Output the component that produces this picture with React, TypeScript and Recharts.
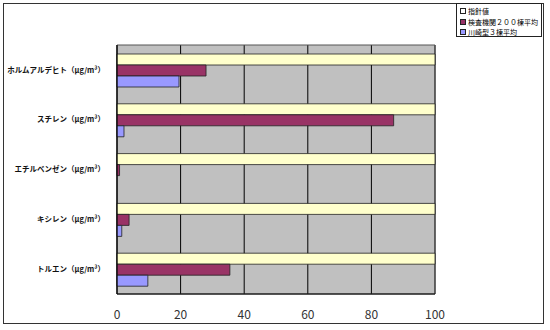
import { BarChart, Bar, XAxis, YAxis, CartesianGrid, ReferenceArea } from 'recharts';

// 物質名（上から順）
const substances = [
  'ホルムアルデヒト（μg/m³）',
  'スチレン（μg/m³）',
  'エチルベンゼン（μg/m³）',
  'キシレン（μg/m³）',
  'トルエン（μg/m³）',
];

// 指針値に対する割合（%）
const guideline = [100, 100, 100, 100, 100];
const agency200 = [28, 87, 0.8, 3.8, 35.5];
const kawasaki3 = [19.5, 2.2, 0, 1.5, 9.7];

const xTicks = [0, 20, 40, 60, 80, 100];

const seriesNames = ['指針値', '検査機関２００棟平均', '川崎型３棟平均'];
const seriesColors = ['#FFFFCC', '#993366', '#9999FF'];

const data = substances.map((name, i) => ({
  name,
  guideline: guideline[i],
  agency200: agency200[i],
  kawasaki3: kawasaki3[i],
}));

const font = '"Noto Sans CJK JP", "Noto Sans", sans-serif';

const ChartLegend = () => (
  <div
    style={{
      position: 'absolute',
      left: 456,
      top: 3,
      width: 86,
      height: 34,
      border: '1px solid #222',
      background: '#fff',
      fontFamily: font,
      fontSize: 7,
      lineHeight: '10.5px',
      padding: '2px 0 0 3px',
      boxSizing: 'border-box',
    }}
  >
    {seriesNames.map((n, i) => (
      <div key={n} style={{ display: 'flex', alignItems: 'center', gap: 2, whiteSpace: 'nowrap' }}>
        <span
          style={{
            display: 'inline-block',
            width: 4,
            height: 4,
            border: '1px solid #222',
            background: i === 0 ? '#fff' : seriesColors[i],
          }}
        />
        <span>{n}</span>
      </div>
    ))}
  </div>
);

export default function App() {
  return (
    <div style={{ position: 'relative', width: 550, height: 330, background: '#fff' }}>
      <style>{'body{margin:0}'}</style>
      <div
        style={{
          position: 'absolute',
          left: 3,
          top: 3,
          width: 541,
          height: 321,
          border: '1.5px solid #333',
          boxSizing: 'border-box',
        }}
      />
      <BarChart
        width={550}
        height={330}
        data={data}
        layout="vertical"
        margin={{ top: 45, right: 115, bottom: 0, left: 0 }}
        barCategoryGap={9}
        barGap={0}
      >
        <CartesianGrid horizontal={false} vertical stroke="#000" fill="#C0C0C0" fillOpacity={1} />
        <XAxis
          type="number"
          domain={[0, 100]}
          ticks={xTicks}
          height={36}
          axisLine={{ stroke: '#000' }}
          tickLine={false}
          tickMargin={10}
          tick={{ fontSize: 12, fill: '#333', fontFamily: font }}
        />
        <YAxis
          type="category"
          dataKey="name"
          width={117}
          axisLine={{ stroke: '#000' }}
          tickLine={false}
          tickMargin={6}
          interval={0}
          tick={{ fontSize: 7.5, fill: '#111', fontFamily: font, fontWeight: 700 }}
        />
        <ReferenceArea x1={0} x2={100} fill="none" stroke="#555" ifOverflow="visible" />
        <Bar dataKey="guideline" name={seriesNames[0]} fill={seriesColors[0]} stroke="#222" strokeWidth={0.8} isAnimationActive={false} />
        <Bar dataKey="agency200" name={seriesNames[1]} fill={seriesColors[1]} stroke="#222" strokeWidth={0.8} isAnimationActive={false} />
        <Bar dataKey="kawasaki3" name={seriesNames[2]} fill={seriesColors[2]} stroke="#222" strokeWidth={0.8} isAnimationActive={false} />
      </BarChart>
      <ChartLegend />
    </div>
  );
}
